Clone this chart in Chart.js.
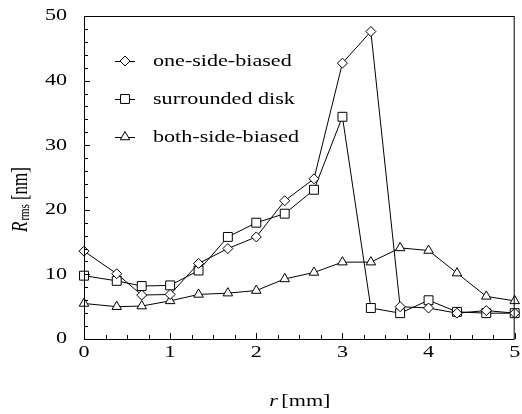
<!DOCTYPE html>
<html>
<head>
<meta charset="utf-8">
<script src="https://cdn.jsdelivr.net/npm/chart.js@4/dist/chart.umd.min.js"></script>
<style>
  html, body { margin: 0; padding: 0; background: #fff; }
  #wrap { width: 522px; height: 414px; }
</style>
</head>
<body>
<div id="wrap"><canvas id="chart"></canvas></div>
<script>
// radial position r [mm]
const rMm = [0, 0.38, 0.67, 1, 1.33, 1.67, 2, 2.33, 2.67, 3, 3.33, 3.67, 4, 4.33, 4.67, 5];
// R_rms [nm]
const oneSideBiased  = [13.6, 10.1, 6.8, 6.9, 11.7, 14.0, 15.8, 21.4, 24.8, 42.7, 47.6, 5.0, 4.8, 4.0, 4.4, 4.0];
const surroundedDisk = [9.8, 9.0, 8.2, 8.3, 10.6, 15.8, 18.0, 19.4, 23.1, 34.4, 4.8, 4.0, 6.0, 4.2, 4.0, 4.0];
const bothSideBiased = [5.5, 5.0, 5.1, 5.9, 6.9, 7.1, 7.5, 9.3, 10.3, 11.9, 11.9, 14.1, 13.7, 10.2, 6.6, 5.9];
const seriesNames = ['one-side-biased', 'surrounded disk', 'both-side-biased'];
const xTickLabels = ['0', '1', '2', '3', '4', '5'];
const yTickLabels = ['0', '10', '20', '30', '40', '50'];

const FONT = '"Liberation Serif", "Times New Roman", serif';
const STRETCH = 1.3; // the original figure is stretched sideways

const toPoints = (ys) => ys.map((y, i) => ({ x: rMm[i], y: y }));

const markerStyles = [
  { pointStyle: 'rectRot', pointRadius: 5 },
  { pointStyle: 'rect', pointRadius: 6.3 },
  { pointStyle: 'triangle', pointRadius: 5.5 }
];

const datasets = [oneSideBiased, surroundedDisk, bothSideBiased].map((ys, i) => ({
  label: seriesNames[i],
  data: toPoints(ys),
  showLine: true,
  borderColor: '#000',
  borderWidth: 1,
  pointBackgroundColor: '#fff',
  pointBorderColor: '#000',
  pointBorderWidth: 1,
  pointStyle: markerStyles[i].pointStyle,
  pointRadius: markerStyles[i].pointRadius,
  clip: false
}));

function stretchedText(ctx, text, x, y, align, font) {
  ctx.save();
  ctx.translate(x, y);
  ctx.scale(STRETCH, 1);
  ctx.font = font;
  ctx.textAlign = align;
  ctx.fillText(text, 0, 0);
  ctx.restore();
}

const decorations = {
  id: 'decorations',
  afterDraw(chart) {
    const { ctx, chartArea: a, scales } = chart;
    const xs = scales.x, ys = scales.y;
    ctx.save();
    ctx.strokeStyle = '#000';
    ctx.fillStyle = '#000';
    ctx.lineWidth = 1;

    // frame
    ctx.strokeRect(a.left + 0.5, a.top + 0.5, a.right - a.left - 1, a.bottom - a.top);

    // inward ticks
    ctx.beginPath();
    for (let v = 0; v <= 50.001; v += 2) {
      const py = Math.round(ys.getPixelForValue(v)) + 0.5;
      const len = (Math.round(v) % 10 === 0) ? 6 : 4;
      ctx.moveTo(a.left, py);
      ctx.lineTo(a.left + len, py);
    }
    for (let v = 0; v <= 5.001; v += 0.25) {
      const px = Math.round(xs.getPixelForValue(v)) + 0.5;
      const len = (Math.abs(v - Math.round(v)) < 0.01) ? 6 : 4;
      ctx.moveTo(px, a.bottom);
      ctx.lineTo(px, a.bottom - len);
    }
    ctx.stroke();

    // tick labels
    ctx.textBaseline = 'middle';
    yTickLabels.forEach(t => {
      stretchedText(ctx, t, a.left - 17, ys.getPixelForValue(Number(t)), 'right', '17px ' + FONT);
    });
    xTickLabels.forEach(t => {
      stretchedText(ctx, t, xs.getPixelForValue(Number(t)), a.bottom + 14, 'center', '17px ' + FONT);
    });

    // x axis title: r [mm]
    ctx.textBaseline = 'alphabetic';
    const xc = (a.left + a.right) / 2;
    stretchedText(ctx, 'r', xc - 30, a.bottom + 67, 'left', 'italic 17px ' + FONT);
    stretchedText(ctx, '[mm]', xc - 18, a.bottom + 67, 'left', '17px ' + FONT);

    // y axis title: R_rms [nm]
    ctx.save();
    ctx.translate(27, 232);
    ctx.scale(STRETCH, 1);
    ctx.rotate(-Math.PI / 2);
    ctx.textAlign = 'left';
    ctx.font = 'italic 17px ' + FONT;
    ctx.fillText('R', 0, 0);
    let off = ctx.measureText('R').width + 1;
    ctx.font = '11px ' + FONT;
    ctx.fillText('rms', off, 1.5);
    off += ctx.measureText('rms').width + 4;
    ctx.font = '17px ' + FONT;
    ctx.fillText('[nm]', off, 0);
    ctx.restore();

    // legend inside the plot
    chart.data.datasets.forEach((ds, i) => {
      const ly = a.top + 45 + i * 38;
      const lx = a.left + 31;
      ctx.beginPath();
      ctx.moveTo(lx, ly + 0.5);
      ctx.lineTo(lx + 20, ly + 0.5);
      ctx.stroke();
      ctx.fillStyle = '#fff';
      Chart.helpers.drawPoint(ctx, {
        pointStyle: ds.pointStyle,
        radius: ds.pointRadius,
        rotation: 0,
        borderWidth: 1
      }, lx + 10, ly);
      ctx.fillStyle = '#000';
      ctx.textBaseline = 'middle';
      stretchedText(ctx, ds.label, lx + 38, ly + 1, 'left', '17px ' + FONT);
    });

    ctx.restore();
  }
};

new Chart(document.getElementById('chart'), {
  type: 'scatter',
  data: { datasets: datasets },
  options: {
    responsive: true,
    maintainAspectRatio: false,
    animation: false,
    layout: { padding: { left: 84, right: 3, top: 16, bottom: 75 } },
    plugins: {
      legend: { display: false },
      tooltip: { enabled: false }
    },
    scales: {
      x: {
        type: 'linear', min: 0, max: 5,
        ticks: { display: false, stepSize: 1 },
        grid: { display: false },
        border: { display: false },
        afterFit: (s) => { s.height = 0; }
      },
      y: {
        type: 'linear', min: 0, max: 50,
        ticks: { display: false, stepSize: 10 },
        grid: { display: false },
        border: { display: false },
        afterFit: (s) => { s.width = 0; }
      }
    }
  },
  plugins: [decorations]
});
</script>
</body>
</html>
